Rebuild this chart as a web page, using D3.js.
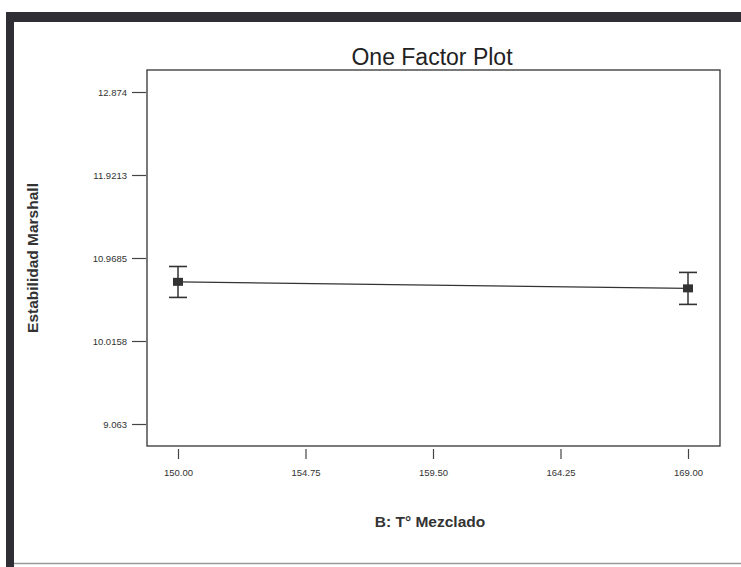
<!DOCTYPE html>
<html><head><meta charset="utf-8">
<script src="https://cdn.jsdelivr.net/npm/d3@7"></script>
<style>body{margin:0;background:#fff}svg{display:block}</style>
</head><body>
<script>
const levels = [150, 169];
const means = [10.695, 10.62];
const lower = [10.516, 10.436];
const upper = [10.871, 10.803];
const yTicks = [9.063, 10.0158, 10.9685, 11.9213, 12.874];
const yTickLabels = ["9.063", "10.0158", "10.9685", "11.9213", "12.874"];
const xTicks = [150, 154.75, 159.5, 164.25, 169];
const xTickLabels = ["150.00", "154.75", "159.50", "164.25", "169.00"];

const W = 741, H = 567;
const svg = d3.select("body").append("svg").attr("width", W).attr("height", H);

// photo frame
svg.append("rect").attr("x", 6).attr("y", 12).attr("width", W - 6).attr("height", 10).attr("fill", "#2e2e34");
svg.append("rect").attr("x", 6).attr("y", 12).attr("width", 8).attr("height", H - 12).attr("fill", "#2e2e34");
svg.append("line").attr("x1", 14).attr("x2", W).attr("y1", 563.5).attr("y2", 563.5).attr("stroke", "#9a9a9a").attr("stroke-width", 1.5);

const box = {l: 147, r: 720, t: 70, b: 446};
const x = d3.scaleLinear().domain([150, 169]).range([178, 688]);
const y = d3.scaleLinear().domain([9.063, 12.874]).range([424, 92]);

svg.append("rect").attr("x", box.l).attr("y", box.t).attr("width", box.r - box.l).attr("height", box.b - box.t)
  .attr("fill", "none").attr("stroke", "#333").attr("stroke-width", 1.3);

const font = "'Liberation Sans', Arial, sans-serif";

// y axis
const yAxis = d3.axisLeft(y).tickValues(yTicks).tickFormat((d, i) => yTickLabels[i]).tickSize(14).tickPadding(5);
const gy = svg.append("g").attr("transform", `translate(${box.l - 1},0)`).call(yAxis);
gy.select(".domain").remove();
gy.selectAll("line").attr("stroke", "#444").attr("stroke-width", 1.2);
gy.selectAll("text").attr("font-family", font).attr("font-size", 9.5).attr("fill", "#333");

// x axis
const xAxis = d3.axisBottom(x).tickValues(xTicks).tickFormat((d, i) => xTickLabels[i]).tickSize(10).tickPadding(10);
const gx = svg.append("g").attr("transform", `translate(0,${box.b + 3})`).call(xAxis);
gx.select(".domain").remove();
gx.selectAll("line").attr("stroke", "#444").attr("stroke-width", 1.2);
gx.selectAll("text").attr("font-family", font).attr("font-size", 9.5).attr("fill", "#333");

// line
const pts = levels.map((l, i) => ({l, m: means[i], lo: lower[i], hi: upper[i]}));
svg.append("path").datum(pts)
  .attr("d", d3.line().x(d => x(d.l)).y(d => y(d.m)))
  .attr("fill", "none").attr("stroke", "#333").attr("stroke-width", 1.3);

const g = svg.selectAll(".pt").data(pts).enter().append("g");
g.append("line").attr("x1", d => x(d.l)).attr("x2", d => x(d.l))
  .attr("y1", d => y(d.hi)).attr("y2", d => y(d.lo)).attr("stroke", "#333").attr("stroke-width", 1.5);
g.append("line").attr("x1", d => x(d.l) - 9).attr("x2", d => x(d.l) + 9)
  .attr("y1", d => y(d.hi)).attr("y2", d => y(d.hi)).attr("stroke", "#333").attr("stroke-width", 1.6);
g.append("line").attr("x1", d => x(d.l) - 9).attr("x2", d => x(d.l) + 9)
  .attr("y1", d => y(d.lo)).attr("y2", d => y(d.lo)).attr("stroke", "#333").attr("stroke-width", 1.6);
g.append("rect").attr("x", d => x(d.l) - 5).attr("y", d => y(d.m) - 4).attr("width", 10).attr("height", 8)
  .attr("fill", "#333");

// titles
svg.append("text").attr("x", 432).attr("y", 65).attr("text-anchor", "middle")
  .attr("font-family", font).attr("font-size", 23).attr("fill", "#222").text("One Factor Plot");
svg.append("text").attr("x", 430).attr("y", 527).attr("text-anchor", "middle")
  .attr("font-family", font).attr("font-size", 15.5).attr("font-weight", "bold").attr("fill", "#333").text("B: T° Mezclado");
svg.append("text").attr("transform", "translate(38,258) rotate(-90)").attr("text-anchor", "middle")
  .attr("font-family", font).attr("font-size", 15.5).attr("font-weight", "bold").attr("fill", "#333").text("Estabilidad Marshall");
</script>
</body></html>
